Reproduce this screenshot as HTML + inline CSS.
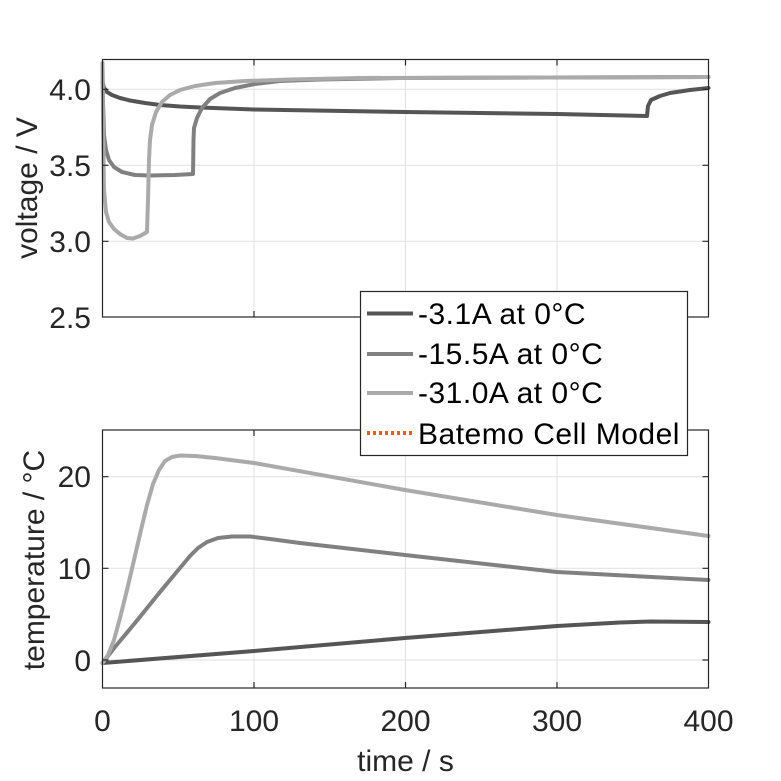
<!DOCTYPE html>
<html><head><style>body{margin:0;background:#fff}svg{display:block}text{font-family:"Liberation Sans",sans-serif;fill:#262626}</style></head><body>
<svg width="781" height="781" viewBox="0 0 781 781">
<rect width="781" height="781" fill="#fff"/>
<g stroke="#e1e1e1" stroke-width="1">
<line x1="254" y1="59.5" x2="254" y2="317"/><line x1="405.5" y1="59.5" x2="405.5" y2="317"/><line x1="557" y1="59.5" x2="557" y2="317"/>
<line x1="102.5" y1="89.3" x2="708.5" y2="89.3"/><line x1="102.5" y1="165.3" x2="708.5" y2="165.3"/><line x1="102.5" y1="241.3" x2="708.5" y2="241.3"/>
<line x1="254" y1="430" x2="254" y2="688"/><line x1="405.5" y1="430" x2="405.5" y2="688"/><line x1="557" y1="430" x2="557" y2="688"/>
<line x1="102.5" y1="476.7" x2="708.5" y2="476.7"/><line x1="102.5" y1="568.3" x2="708.5" y2="568.3"/><line x1="102.5" y1="660" x2="708.5" y2="660"/>
</g>
<g fill="none" stroke-width="4" stroke-linejoin="round" stroke-linecap="round">
<polyline stroke="#555" points="102.5,82 104,88 107,92 112,95 120,98 130,100.5 145,103 160,105 180,106.5 200,107.5 254,109.5 405,112 557,114 647,116 648,106 651,100 660,96 670,93 690,90 708.5,88"/>
<polyline stroke="#808080" points="102.5,64 103,100 104,135 106,150 109,160 114,167 122,172 135,175 150,175.5 175,175 193,174 193.5,140 194,128 197,118 202,108 210,99 220,93 235,88 255,84 280,81 320,79.5 400,78 708.5,77"/>
<polyline stroke="#aaa" points="102.5,63 103,120 104,190 106,212 109,222 114,229 120,234 127,238 133,238.5 140,236 147,232 148,200 149,160 150,140 152,125 156,112 162,102 170,95 180,90 195,86 215,83 245,81 290,79.5 360,78 708.5,77"/>
<polyline stroke="#555" points="102.5,663 254,651 405,638 557,626 620,622.5 650,621.5 708.5,622"/>
<polyline stroke="#808080" points="102.5,663 115,647 135,623 160,592 180,568 190,556 198,548 207,542 218,538 232,536.5 250,536.5 270,539 300,543 405,555 557,572 708.5,580"/>
<polyline stroke="#aaa" points="102.5,663 108,655 114,640 120,618 127,590 134,560 141,530 147,505 153,484 159,470 165,461 172,457 180,455.5 195,456 215,458 254,463 405,490 557,515 708.5,536"/>
</g>
<g stroke="#262626" stroke-width="1.2" fill="none">
<rect x="102.5" y="59.5" width="606" height="257.5"/>
<rect x="102.5" y="430" width="606" height="258"/>
<path d="M102.5,89.3h6M102.5,165.3h6M102.5,241.3h6M254,317v-6M405.5,317v-6M557,317v-6M254,59.5v6M405.5,59.5v6M557,59.5v6M102.5,476.7h6M102.5,568.3h6M102.5,660h6M254,688v-6M405.5,688v-6M557,688v-6M254,430v6M405.5,430v6M557,430v6M708.5,89.3h-6M708.5,165.3h-6M708.5,241.3h-6M708.5,476.7h-6M708.5,568.3h-6M708.5,660h-6"/>
</g>
<g font-size="30" text-anchor="end">
<text x="91" y="100">4.0</text><text x="91" y="176">3.5</text><text x="91" y="252">3.0</text><text x="91" y="328">2.5</text>
<text x="91" y="487">20</text><text x="91" y="579">10</text><text x="91" y="671">0</text>
</g>
<g font-size="30" text-anchor="middle">
<text x="102.5" y="731">0</text><text x="254" y="731">100</text><text x="405.5" y="731">200</text><text x="557" y="731">300</text><text x="708.5" y="731">400</text>
<text x="405.5" y="771">time / s</text>
<text transform="translate(37,188) rotate(-90)">voltage / V</text>
<text transform="translate(44,560) rotate(-90)">temperature / °C</text>
</g>
<rect x="360.5" y="291.5" width="327" height="164" fill="#fff" stroke="#262626" stroke-width="1.2"/>
<g stroke-width="4">
<line x1="367" y1="313.5" x2="413" y2="313.5" stroke="#555"/>
<line x1="367" y1="354" x2="413" y2="354" stroke="#808080"/>
<line x1="367" y1="393" x2="413" y2="393" stroke="#aaa"/>
<line x1="367" y1="433" x2="413" y2="433" stroke="#f05a14" stroke-dasharray="3,3"/>
</g>
<g font-size="30" letter-spacing="0.5">
<text x="418" y="324" style="fill:#000">-3.1A at 0°C</text>
<text x="418" y="364" style="fill:#000">-15.5A at 0°C</text>
<text x="418" y="403" style="fill:#000">-31.0A at 0°C</text>
<text x="418" y="444" style="fill:#000">Batemo Cell Model</text>
</g>
</svg>
</body></html>
